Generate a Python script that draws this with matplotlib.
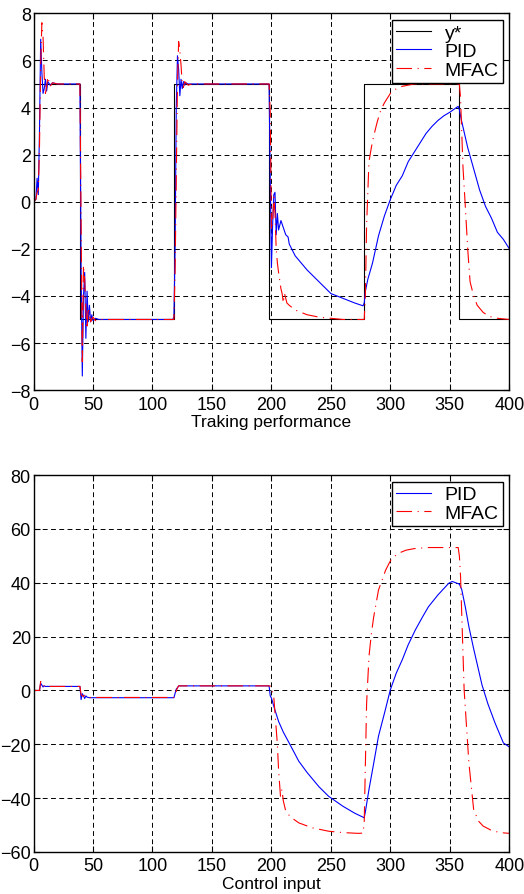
import matplotlib
matplotlib.use('Agg')
import matplotlib.pyplot as plt

plt.rcParams['font.family'] = ['Liberation Sans', 'DejaVu Sans']

# --- reference signal y* ---
ystar_k = [0, 39, 39, 118, 118, 198, 198, 278, 278, 358, 358, 400]
ystar_v = [5, 5, -5, -5, 5, 5, -5, -5, 5, 5, -5, -5]

# --- tracking output, PID ---
pid_y_k = [0, 2, 3, 4, 5, 6, 7, 8, 9, 10, 11, 12, 14, 16, 20,
           39, 40, 41, 42, 43, 44, 45, 46, 47, 48, 49, 50, 52, 55,
           117, 118, 119, 120, 121, 122, 123, 124, 125, 126, 127, 128, 130,
           198, 199, 200, 201, 202, 203, 204, 205, 206, 207, 208, 210, 212, 214, 215,
           220, 225, 230, 240, 250, 260, 270, 277,
           278, 279, 281, 285, 290, 295, 300, 305, 310, 315, 320, 325, 330, 335, 340, 345, 350, 357,
           358, 360, 365, 370, 375, 380, 385, 390, 395, 400]
pid_y_v = [0, 0.1, 1.0, 0.3, 3.0, 6.9, 5.5, 4.6, 4.8, 5.2, 4.7, 5.1, 4.95, 5.05, 5,
           5, -3, -7.4, -4.0, -3.0, -5.8, -3.8, -5.1, -4.4, -5.1, -4.8, -5.05, -4.95, -5,
           -5, -4.9, -2, 4, 6.2, 5.6, 4.5, 5.2, 4.8, 5.1, 4.95, 5.05, 5,
           5, 1, -2.8, -1, 0.3, 0.4, -1.4, -0.5, -1.2, -1.0, -0.8, -1.1, -1.4, -1.5, -1.8,
           -2.3, -2.6, -2.9, -3.4, -3.9, -4.1, -4.3, -4.42,
           -4.3, -3.8, -3.3, -2.6, -1.45, -0.6, 0.1, 0.7, 1.1, 1.7, 2.1, 2.5, 2.9, 3.2, 3.45, 3.65, 3.8, 4.05,
           3.9, 3.4, 2.3, 1.4, 0.5, -0.2, -0.7, -1.3, -1.6, -2.0]

# --- tracking output, MFAC ---
mfac_y_k = [0, 2, 3, 4, 5, 6, 7, 8, 9, 10, 11, 12, 13, 14, 16, 20,
            39, 40, 41, 42, 43, 44, 45, 46, 47, 48, 50, 52, 55,
            118, 119, 120, 121, 122, 123, 124, 125, 126, 127, 128, 130, 133,
            198, 199, 200, 201, 202, 203, 204, 205, 206, 208, 209, 210, 211, 213, 215,
            220, 230, 240, 250, 260, 278,
            279, 280, 282, 284, 286, 289, 292, 295, 300, 305, 310, 320, 358,
            359, 361, 363, 365, 367, 370, 373, 378, 383, 390, 400]
mfac_y_v = [0, 0.1, 0.4, 0.5, 2.3, 5.8, 7.6, 7.0, 5.3, 4.6, 4.9, 5.3, 5.1, 4.9, 5.05, 5,
            5, -1, -6.8, -2.7, -3.3, -4.6, -5.4, -4.5, -4.8, -5.1, -4.9, -5.05, -5,
            -5, -3, 1, 5, 6.8, 6.4, 5.8, 5.0, 4.85, 5.1, 5.05, 4.95, 5,
            5, 3.8, -1.2, -0.8, 0.2, -0.5, -2.0, -2.6, -3.0, -3.7, -3.9, -4.3, -3.9, -4.3, -4.4,
            -4.6, -4.8, -4.9, -4.95, -5, -5,
            -3.9, -1, 1.7, 2.3, 2.8, 3.4, 3.9, 4.2, 4.6, 4.8, 4.9, 5.0, 5.0,
            4.4, 1.5, -0.2, -2.0, -3.4, -4.0, -4.4, -4.7, -4.87, -4.95, -5]

# --- control input, PID ---
pid_u_k = [0, 5, 6, 7, 8, 9, 10, 39, 40, 41, 42, 43, 44, 45, 47, 118, 120, 121, 122,
           198, 199, 200, 202, 206, 210, 215, 223, 230, 240, 248, 260, 270, 278,
           279, 282, 286, 290, 295, 300, 305, 310, 315, 321, 327, 332, 340, 349, 352, 358,
           360, 363, 366, 370, 377, 382, 388, 395, 400]
pid_u_v = [0, 0, 2.7, 2.0, 1.3, 1.7, 1.5, 1.5, -3.4, -1.2, -2.0, -3.0, -2.0, -2.5, -2.7, -2.7, 0.5, 1.0, 1.7,
           1.7, -2.0, -2.8, -5.9, -11.5, -15.5, -19.6, -26.3, -30.5, -35.8, -39.3, -43, -45.6, -47.3,
           -45, -36.8, -27, -17, -8.5, 0.3, 6.5, 11.4, 17, 22.5, 27.3, 31.1, 35.5, 39.8, 40.5, 39.5,
           37.5, 31, 23.7, 15.5, 2.1, -5, -12.1, -19.5, -21]

# --- control input, MFAC ---
mfac_u_k = [0, 5, 6, 7, 8, 9, 10, 39, 40, 41, 42, 43, 45, 47, 118, 119, 121, 122,
            198, 200, 201, 202, 203, 205, 206, 207.6, 208.8, 210, 212, 216, 223, 234, 248, 260, 273, 277,
            278, 279, 280, 282, 284, 286, 290, 296, 301, 307, 313, 320, 332, 357,
            358, 359, 362, 366, 370, 374, 378, 385, 392, 400]
mfac_u_v = [0, 0, 3.3, 2.5, 1.4, 1.8, 1.5, 1.5, -1.5, -2.0, -2.2, -1.8, -2.5, -2.6, -2.6, -1.5, 1.0, 1.7,
            1.7, 1.5, -1, -2.5, -8.4, -20, -29.4, -39.3, -36.8, -41, -44.8, -47, -49.2, -51, -52.3, -52.8, -53.1, -53,
            -49, -27, -5, 12.6, 21, 27.4, 37.3, 44.7, 49, 51, 52.1, 52.7, 53.1, 53.1,
            50, 42.3, 0.3, -26.9, -44.2, -48.5, -50.4, -52, -52.8, -53.1]

x_ticks = [0, 50, 100, 150, 200, 250, 300, 350, 400]
y1_ticks = [-8, -6, -4, -2, 0, 2, 4, 6, 8]
y2_ticks = [-60, -40, -20, 0, 20, 40, 60, 80]

fig = plt.figure(figsize=(5.24, 8.95), dpi=100)
ax1 = fig.add_axes([0.064, 0.563, 0.908, 0.421])
ax2 = fig.add_axes([0.064, 0.047, 0.908, 0.421])

mfac_dash = (14, 5, 1, 5)


def style(ax, yticks, ylim, xlabel):
    ax.set_xlim(0, 400)
    ax.set_ylim(*ylim)
    ax.set_xticks(x_ticks)
    ax.set_yticks(yticks)
    ax.grid(True, color='black', linestyle=(0, (5, 3.5)), linewidth=0.7)
    ax.tick_params(direction='in', labelsize=13, length=4, top=True, right=True, pad=2)
    ax.tick_params(axis='x', pad=4)
    for s in ax.spines.values():
        s.set_linewidth(1.0)
    ax.set_xlabel(xlabel, fontsize=12.5, labelpad=1)
    ax.legend(loc='upper right', fontsize=14, fancybox=False, framealpha=1,
              edgecolor='black', borderaxespad=0.35, handlelength=1.8,
              borderpad=0.2, labelspacing=0.05, handletextpad=0.7)
    ax.get_legend().get_frame().set_linewidth(1.0)


ax1.plot(ystar_k, ystar_v, color='black', linewidth=0.8, label='y*')
ax1.plot(pid_y_k, pid_y_v, color='blue', linewidth=0.8, label='PID')
ax1.plot(mfac_y_k, mfac_y_v, color='red', linewidth=0.8, dashes=mfac_dash, label='MFAC')
style(ax1, y1_ticks, (-8, 8), 'Traking performance')

ax2.plot(pid_u_k, pid_u_v, color='blue', linewidth=0.8, label='PID')
ax2.plot(mfac_u_k, mfac_u_v, color='red', linewidth=0.8, dashes=mfac_dash, label='MFAC')
style(ax2, y2_ticks, (-60, 80), 'Control input')

fig.savefig('out.png', dpi=100)
